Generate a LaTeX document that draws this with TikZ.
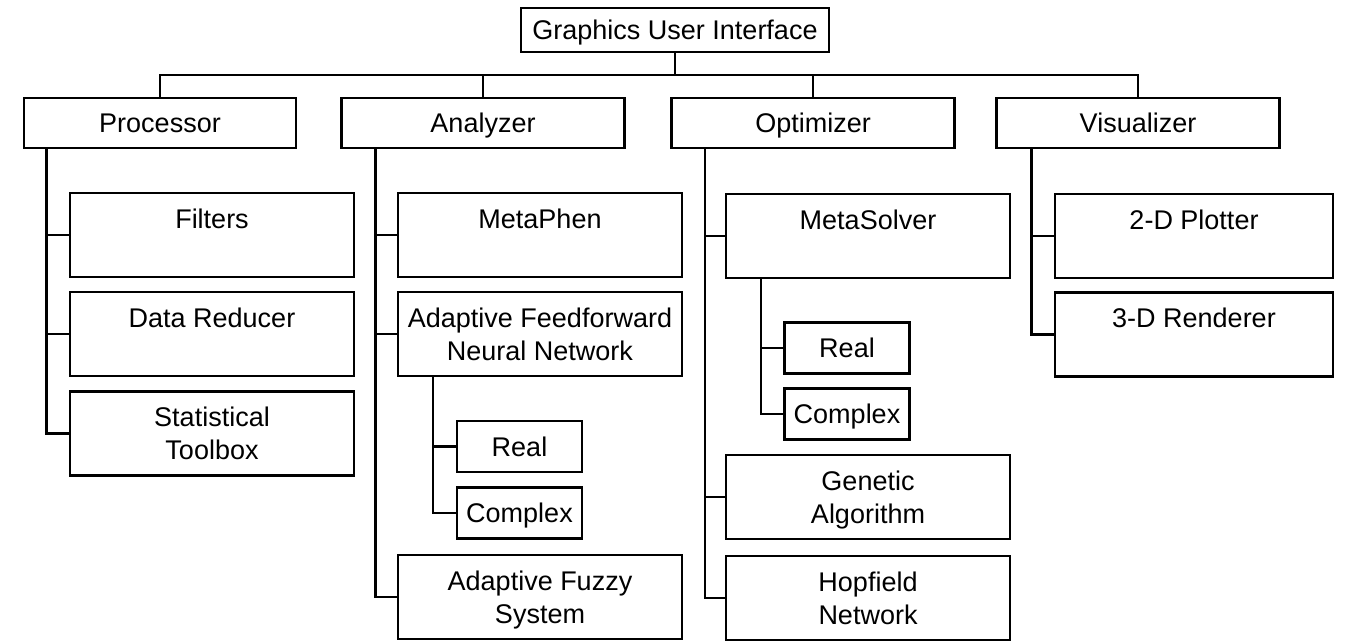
\documentclass[tikz,border=0pt]{standalone}
\usepackage{fontspec}
\setmainfont{Liberation Sans}
\usepackage{tikz}
\usetikzlibrary{positioning}

\begin{document}
\begin{tikzpicture}[x=0.5pt, y=-0.5pt,
  box/.style={draw, line width=1.2pt, inner sep=1pt, align=center,
    text depth=0pt, font=\fontsize{13.5}{16.5}\selectfont},
  topbox/.style={box, minimum width=154pt, minimum height=22pt},
  grpbox/.style={box, minimum width=141.5pt, minimum height=25pt},
  itembox/.style={box, minimum width=142pt, minimum height=42pt},
  leafbox/.style={box, minimum width=62.5pt, minimum height=25.5pt},
  wire/.style={line width=1.2pt}]
\useasboundingbox (0,0) rectangle (1348,643);
%%── Root ─────────────────────────────────────────────────
\node[topbox] (gui) at (675,30) {Graphics User Interface};
%%── Modules ──────────────────────────────────────────────
\node[grpbox, minimum width=136pt] (proc) at (160,123) {Processor};
\node[grpbox] (anl) at (483,123) {Analyzer};
\node[grpbox] (opt) at (813,123) {Optimizer};
\node[grpbox] (vis) at (1138,123) {Visualizer};
%%── Processor items ──────────────────────────────────────
\node[itembox] (filt) at (212,235)   {Filters\\~};
\node[itembox] (dred) at (212,334)   {Data Reducer\\~};
\node[itembox] (stat) at (212,433.5) {Statistical\\Toolbox};
%%── Analyzer items ───────────────────────────────────────
\node[itembox] (mphen) at (540,235) {MetaPhen\\~};
\node[itembox] (affn)  at (540,334) {Adaptive Feedforward\\Neural Network};
\node[leafbox] (areal) at (519.5,446.5) {Real};
\node[leafbox] (acplx) at (519.5,513)   {Complex};
\node[itembox] (afs)   at (540,597) {Adaptive Fuzzy\\System};
%%── Optimizer items ──────────────────────────────────────
\node[itembox] (msolv) at (868,236) {MetaSolver\\~};
\node[leafbox] (oreal) at (847,348) {Real};
\node[leafbox] (ocplx) at (847,414) {Complex};
\node[itembox] (gen)   at (868,497) {Genetic\\Algorithm};
\node[itembox] (hopf)  at (868,598) {Hopfield\\Network};
%%── Visualizer items ─────────────────────────────────────
\node[itembox, minimum width=139pt] (plot) at (1194,236)   {2-D Plotter\\~};
\node[itembox, minimum width=139pt] (rend) at (1194,334.5) {3-D Renderer\\~};
%%── Bus from root to modules ─────────────────────────────
\coordinate (bus) at (675,75);
\draw[wire] (gui.south) -- (bus);
\draw[wire] (proc.north) |- (bus) -| (vis.north);
\foreach \n in {anl,opt}
  \draw[wire] (\n.north) -- (\n.north |- bus);
%%── Trunks under each module ─────────────────────────────
\coordinate (proc-d)  at ([xshift=11.8pt]proc.south west);
\coordinate (anl-d)   at ([xshift=17.5pt]anl.south west);
\coordinate (opt-d)   at ([xshift=17.3pt]opt.south west);
\coordinate (vis-d)   at ([xshift=18pt]vis.south west);
\coordinate (affn-d)  at ([xshift=18pt]affn.south west);
\coordinate (msolv-d) at ([xshift=18pt]msolv.south west);
\foreach \c in {filt,dred,stat}
  \draw[wire] (proc-d) |- (\c.west);
\foreach \c in {mphen,affn,afs}
  \draw[wire] (anl-d) |- (\c.west);
\foreach \c in {areal,acplx}
  \draw[wire] (affn-d) |- (\c.west);
\foreach \c in {msolv,gen,hopf}
  \draw[wire] (opt-d) |- (\c.west);
\foreach \c in {oreal,ocplx}
  \draw[wire] (msolv-d) |- (\c.west);
\foreach \c in {plot,rend}
  \draw[wire] (vis-d) |- (\c.west);
\end{tikzpicture}
\end{document}
